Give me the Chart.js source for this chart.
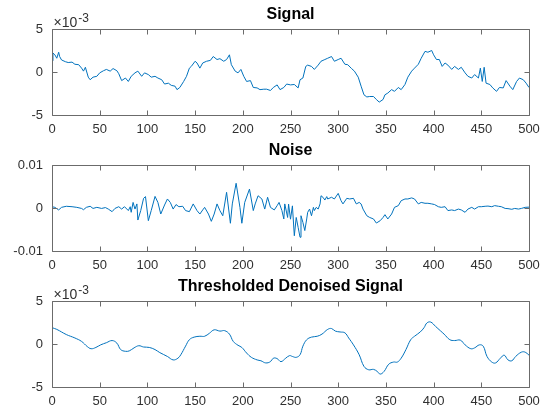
<!DOCTYPE html>
<html>
<head>
<meta charset="utf-8">
<script src="https://cdn.jsdelivr.net/npm/chart.js@4/dist/chart.umd.min.js"></script>
<style>
  html, body { margin: 0; padding: 0; background: #fff; }
  .panel { position: absolute; left: 0; width: 547px; height: 136px; }
</style>
</head>
<body>
<div class="panel" style="top:0"><canvas id="signal"></canvas></div>
<div class="panel" style="top:136px"><canvas id="noise"></canvas></div>
<div class="panel" style="top:272px"><canvas id="denoised"></canvas></div>
<script>
// values of signal and denoised signal are in units of 1e-3 (axis shows x10^-3)
const xTicks = [0, 50, 100, 150, 200, 250, 300, 350, 400, 450, 500];
const milliTicks = [-5, 0, 5];
const noiseTicks = [-0.01, 0, 0.01];

const signalX = [
  0, 1, 3, 5, 7, 8, 10, 14, 17, 21, 24, 28, 31, 33, 35, 38, 40, 43, 47, 50,
  54, 57, 61, 64, 68, 70, 73, 77, 80, 83, 87, 90, 94, 97, 101, 104, 108, 111, 115, 118,
  122, 125, 129, 131, 134, 138, 141, 144, 146, 150, 152, 155, 158, 162, 166, 169, 173, 176, 180, 183,
  186, 188, 192, 195, 198, 201, 204, 208, 211, 215, 218, 222, 225, 229, 232, 236, 239, 243, 246, 250,
  254, 258, 260, 263, 266, 268, 272, 275, 279, 282, 286, 289, 293, 296, 300, 303, 307, 310, 314, 317,
  321, 324, 327, 330, 333, 337, 340, 343, 347, 349, 352, 356, 359, 363, 366, 370, 373, 377, 380, 384,
  387, 391, 394, 398, 400, 403, 406, 409, 412, 415, 419, 422, 426, 429, 433, 436, 440, 443, 447, 449,
  451, 453, 455, 459, 462, 466, 469, 473, 476, 480, 483, 487, 490, 494, 497, 500
];
const signalY = [
  1.3, 2.2, 2.0, 1.6, 2.3, 1.8, 1.4, 1.2, 1.1, 1.15, 0.9, 0.85, 0.45, 0.1, 0.55, -0.6, -0.9, -0.6, -0.5, -0.1,
  0.15, 0.3, 0.1, 0.4, 0.15, -0.2, -1.0, -0.7, -1.1, -0.5, -0.1, 0.1, -0.5, -0.1, -0.3, -0.6, -0.5, -0.7, -0.9, -1.4,
  -1.3, -1.55, -1.65, -2.05, -1.8, -1.1, -0.5, 0.45, 0.65, 1.25, 1.05, 0.45, 1.05, 1.25, 1.35, 1.8, 1.45, 1.55, 1.25, 1.45,
  2.0, 0.85, 0.1, -0.1, 0.3, -0.5, -1.1, -1.0, -1.8, -1.85, -2.05, -2.0, -2.0, -2.15, -1.8, -1.5, -2.05, -1.8, -1.4, -1.5,
  -1.45, -1.85, -0.9, -0.7, 0.65, 0.8, 0.65, 0.3, 0.8, 1.25, 1.45, 1.6, 1.8, 1.25, 1.45, 1.6, 0.9, 0.85, 0.4, 0.1,
  -0.6, -1.65, -2.65, -2.9, -2.85, -2.85, -3.2, -3.5, -3.2, -2.65, -2.45, -2.05, -2.25, -1.8, -2.05, -1.45, -0.6, 0.1, 0.45, 0.9,
  1.6, 2.4, 2.3, 2.5, 2.0, 1.45, 1.45, 0.65, 1.05, 0.8, 0.3, 0.65, 0.3, 0.55, -0.1, -0.5, -0.7, -0.3, -0.7, 0.45,
  -1.1, 0.55, -1.3, -1.45, -1.85, -2.25, -1.8, -1.85, -1.0, -1.65, -2.05, -1.1, -0.7, -0.9, -1.3, -1.8
];

// noise values in units of 1e-3, the axis shows the real values
const noiseX = [
  0, 3, 7, 10, 15, 21, 26, 31, 33, 36,
  40, 43, 47, 52, 56, 59, 63, 66, 70, 73,
  76, 80, 82, 83, 85, 87, 89, 90, 93, 96,
  98, 101, 104, 108, 111, 114, 118, 121, 124, 127,
  130, 133, 137, 140, 144, 148, 152, 155, 158, 160,
  164, 167, 170, 173, 176, 179, 183, 187, 189, 193,
  197, 199, 202, 207, 211, 213, 216, 220, 223, 226,
  229, 233, 236, 238, 241, 243, 244, 247, 248, 250,
  252, 254, 256, 258, 260, 261, 263, 265, 267, 268,
  270, 272, 274, 275, 277, 279, 281, 282, 284, 286,
  288, 289, 293, 296, 300, 303, 305, 309, 312, 316,
  319, 322, 324, 326, 330, 333, 337, 340, 344, 347,
  349, 352, 356, 359, 363, 366, 370, 373, 377, 380,
  384, 387, 391, 394, 398, 401, 405, 408, 412, 415,
  419, 422, 426, 429, 433, 436, 440, 443, 447, 450,
  454, 457, 461, 464, 468, 471, 475, 478, 482, 485,
  489, 492, 496, 500
];
const noiseY = [
  0.3, 0.15, -0.45, 0.15, 0.4, 0.3, 0.15, -0.1, -0.4, 0.15,
  0.4, -0.1, 0.15, -0.1, 0.1, -0.25, -0.85, -0.1, 0.3, -0.25,
  0.3, -0.6, 0.3, -1.0, 1.3, -0.25, 0.95, -2.8, -0.6, 2.25,
  2.65, -2.95, -0.6, 2.7, 1.3, -1.4, 0.7, 2.1, 1.3, -0.25,
  0.8, 0.3, 0.4, -0.6, -0.85, 0.95, -0.6, -1.4, -0.45, 0.15,
  -1.4, -3.1, -1.4, 0.95, -0.6, -1.8, 3.65, -3.55, 0.95, 5.75,
  0.15, -3.55, 1.3, 4.4, -0.6, 0.95, 2.85, 2.1, -0.25, 2.5,
  0.15, -0.45, 0.55, 1.3, -0.6, -2.55, 0.95, -2.2, 0.9, -2.6,
  0.5, -6.45, -2.2, -4.5, -6.8, -1.8, -3.35, -5.25, -2.55, -1.0,
  -0.25, -1.8, 0.15, -0.6, 0.15, -0.25, 0.95, 2.85, 2.5, 1.85,
  2.65, 2.1, 2.5, 2.1, 3.4, 1.7, 0.95, 2.25, 2.1, 2.25,
  0.95, 1.3, 0.95, -0.25, -1.8, -2.2, -2.55, -3.5, -2.95, -2.2,
  -1.55, -2.55, -1.4, 0.15, 0.55, 1.7, 2.1, 2.1, 2.35, 2.1,
  0.95, 1.3, 1.1, 1.1, 0.95, 0.8, 0.3, 0.15, 0.3, -0.6,
  -0.45, -0.6, -0.25, -0.45, -1.0, -0.25, 0.15, -0.25, 0.3, 0.3,
  0.4, 0.45, 0.3, 0.55, 0.4, 0.3, -0.1, -0.15, -0.3, -0.1,
  -0.25, -0.1, 0.15, 0.2
];

const denoisedX = [
  0, 5, 15, 24, 31, 37, 41, 46, 51, 57, 63, 68, 72, 77, 81, 86, 91, 96, 102, 108,
  113, 121, 127, 132, 135, 140, 144, 149, 155, 160, 165, 170, 176, 181, 186, 190, 195, 199, 204, 209,
  215, 219, 224, 229, 232, 236, 240, 245, 249, 252, 256, 260, 263, 267, 272, 278, 283, 289, 293, 297,
  302, 307, 311, 316, 322, 327, 332, 337, 341, 344, 348, 353, 358, 362, 366, 371, 376, 380, 386, 390,
  393, 397, 402, 407, 411, 417, 422, 428, 433, 439, 443, 448, 452, 456, 461, 465, 470, 474, 478, 482,
  486, 492, 496, 500
];
const denoisedY = [
  1.9, 1.7, 1.1, 0.7, 0.3, -0.3, -0.55, -0.4, -0.1, 0.15, 0.4, 0.1, -0.65, -0.85, -0.8, -0.45, -0.2, -0.35, -0.4, -0.65,
  -1.0, -1.45, -1.85, -1.65, -1.25, -0.25, 0.5, 0.8, 0.9, 0.9, 1.25, 1.65, 1.5, 1.55, 1.15, 0.3, -0.15, -0.4, -1.05, -1.55,
  -1.85, -1.95, -2.2, -2.05, -1.65, -1.7, -2.05, -1.65, -1.35, -1.45, -1.55, -1.25, -0.25, 0.5, 0.8, 0.9, 1.15, 1.7, 1.8, 1.5,
  1.4, 1.3, 0.7, -0.1, -1.25, -2.6, -3.0, -2.95, -3.2, -3.5, -3.2, -2.35, -2.1, -2.1, -1.65, -0.65, 0.5, 0.9, 1.4, 1.9,
  2.45, 2.55, 2.05, 1.55, 1.15, 0.5, 0.4, 0.45, -0.1, -0.55, -0.45, -0.1, -0.25, -1.45, -2.1, -2.2, -1.65, -1.3, -1.85, -1.95,
  -1.45, -0.95, -0.95, -1.3
];

const LINE_COLOR = '#0072BD';
const AXIS_COLOR = '#6b6b6b';
const TEXT_COLOR = '#303030';
const FONT = "'Liberation Sans', Arial, Helvetica, sans-serif";
const TICK_LEN = 5;

// MATLAB style box with inward ticks, plus the x10^n exponent label
const matlabAxes = {
  id: 'matlabAxes',
  afterDatasetsDraw(chart, args, opts) {
    const { ctx, chartArea: a, scales } = chart;
    const left = Math.round(a.left) + 0.5;
    const right = Math.round(a.right) + 0.5;
    const top = Math.round(a.top) + 0.5;
    const bottom = Math.round(a.bottom) + 0.5;

    ctx.save();
    ctx.strokeStyle = AXIS_COLOR;
    ctx.lineWidth = 1;
    ctx.beginPath();
    for (const t of scales.x.ticks) {
      const px = Math.round(scales.x.getPixelForValue(t.value)) + 0.5;
      ctx.moveTo(px, bottom);
      ctx.lineTo(px, bottom - TICK_LEN);
      ctx.moveTo(px, top);
      ctx.lineTo(px, top + TICK_LEN);
    }
    for (const t of scales.y.ticks) {
      const py = Math.round(scales.y.getPixelForValue(t.value)) + 0.5;
      ctx.moveTo(left, py);
      ctx.lineTo(left + TICK_LEN, py);
      ctx.moveTo(right, py);
      ctx.lineTo(right - TICK_LEN, py);
    }
    ctx.rect(left, top, right - left, bottom - top);
    ctx.stroke();

    if (opts.exponent) {
      ctx.fillStyle = TEXT_COLOR;
      ctx.textBaseline = 'alphabetic';
      ctx.textAlign = 'left';
      ctx.font = '14px ' + FONT;
      const base = '\u00d710';
      ctx.fillText(base, left + 1, top - 3);
      const w = ctx.measureText(base).width;
      ctx.font = '12px ' + FONT;
      ctx.fillText(opts.exponent, left + 2 + w, top - 8);
    }
    ctx.restore();
  }
};

function points(xs, ys, factor = 1) {
  return xs.map((x, i) => ({ x, y: ys[i] * factor }));
}

function makeChart(id, title, data, yTicks, exponent, tension) {
  return new Chart(document.getElementById(id), {
    type: 'line',
    data: {
      datasets: [{
        data,
        borderColor: LINE_COLOR,
        borderWidth: 1,
        pointRadius: 0,
        tension,
      }],
    },
    plugins: [matlabAxes],
    options: {
      responsive: true,
      maintainAspectRatio: false,
      animation: false,
      layout: { padding: { left: 0, right: 18, top: 0, bottom: 0 } },
      plugins: {
        legend: { display: false },
        tooltip: { enabled: false },
        title: {
          display: true,
          text: title,
          fullSize: false,
          color: '#000',
          font: { family: FONT, size: 16, weight: 'bold', lineHeight: 1.25 },
          padding: { top: 5, bottom: 4 },
        },
        matlabAxes: { exponent },
      },
      scales: {
        x: {
          type: 'linear',
          min: 0,
          max: 500,
          afterBuildTicks: (s) => { s.ticks = xTicks.map((v) => ({ value: v })); },
          afterFit: (s) => { s.height = 21; },
          grid: { display: false, drawTicks: false },
          border: { display: false },
          ticks: {
            autoSkip: false,
            maxRotation: 0,
            padding: 7,
            color: TEXT_COLOR,
            font: { family: FONT, size: 13 },
          },
        },
        y: {
          min: yTicks[0],
          max: yTicks[yTicks.length - 1],
          afterBuildTicks: (s) => { s.ticks = yTicks.map((v) => ({ value: v })); },
          afterFit: (s) => { s.width = 52; },
          grid: { display: false, drawTicks: false },
          border: { display: false },
          ticks: {
            padding: 9,
            color: TEXT_COLOR,
            font: { family: FONT, size: 13 },
            callback: (v) => String(parseFloat(Number(v).toFixed(4))),
          },
        },
      },
    },
  });
}

makeChart('signal', 'Signal', points(signalX, signalY), milliTicks, '-3', 0);
makeChart('noise', 'Noise', points(noiseX, noiseY, 1e-3), noiseTicks, null, 0);
makeChart('denoised', 'Thresholded Denoised Signal', points(denoisedX, denoisedY), milliTicks, '-3', 0.4);
</script>
</body>
</html>
